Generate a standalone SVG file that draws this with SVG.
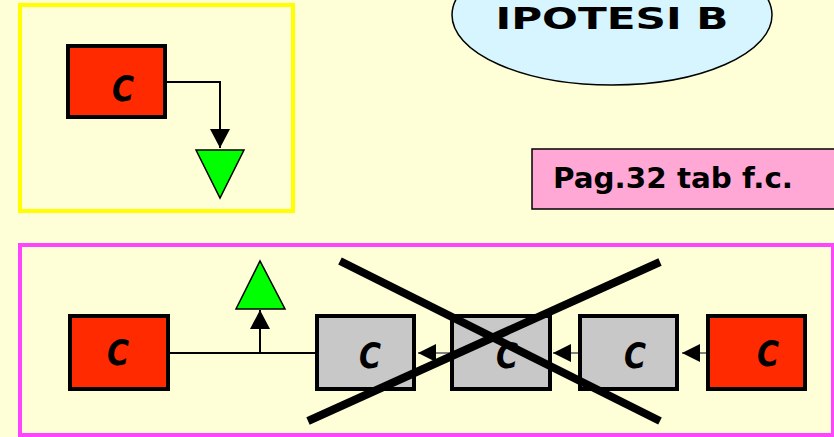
<svg xmlns="http://www.w3.org/2000/svg" width="834" height="437" viewBox="0 0 834 437">
<defs>
<style>
.bg{fill:#FFFFD7}
.box{stroke:#000;stroke-width:4}
.red{fill:#FF2A00}
.gray{fill:#C8C8C8}
.c{font-family:"DejaVu Sans",sans-serif;font-weight:bold;font-style:oblique;font-size:36px;text-anchor:middle;fill:#000}
.lbl{font-family:"DejaVu Sans",sans-serif;font-weight:bold;fill:#000}
.tri{fill:#00FF00;stroke:#000;stroke-width:1.5}
.wire{stroke:#000;stroke-width:2;fill:none}
.gwire{stroke:#808080;stroke-width:2;fill:none}
.cross{stroke:#000;stroke-width:8;stroke-linecap:butt}
</style>
<marker id="ah" markerUnits="userSpaceOnUse" markerWidth="22" markerHeight="22" refX="19" refY="10" orient="auto">
<path d="M0,0 L19,10 L0,20 Z" fill="#000"/>
</marker>
<marker id="ahs" markerUnits="userSpaceOnUse" markerWidth="20" markerHeight="20" refX="18" refY="9" orient="auto">
<path d="M0,0 L18,9 L0,18 Z" fill="#000"/>
</marker>
</defs>
<rect class="bg" x="0" y="0" width="834" height="437"/>

<g id="frame-top">
<rect x="20" y="5" width="273" height="206" fill="none" stroke="#FFFF00" stroke-width="4"/>
</g>
<g id="frame-bottom">
<rect x="20" y="245" width="813" height="190" fill="none" stroke="#FF44FF" stroke-width="4"/>
</g>

<g id="title">
<ellipse cx="612" cy="15" rx="160" ry="70" fill="#D7F5FF" stroke="#000" stroke-width="1.5"/>
<text class="lbl" x="612" y="29" font-size="30" text-anchor="middle" textLength="233" lengthAdjust="spacingAndGlyphs">IPOTESI B</text>
</g>

<g id="note">
<rect x="532" y="149" width="310" height="60" fill="#FFA8D5" stroke="#000" stroke-width="1.5"/>
<text class="lbl" x="553" y="188" font-size="29" textLength="240" lengthAdjust="spacingAndGlyphs">Pag.32 tab f.c.</text>
</g>

<g id="connectors">
<polyline class="wire" points="167,82 220,82 220,148" marker-end="url(#ah)"/>
<line class="wire" x1="170" y1="353" x2="315" y2="353"/>
<line class="wire" x1="260" y1="353" x2="260" y2="310" marker-end="url(#ah)"/>
<line class="gwire" x1="706" y1="353" x2="682" y2="353" marker-end="url(#ahs)"/>
<line class="gwire" x1="578" y1="353" x2="553" y2="353" marker-end="url(#ahs)"/>
<line class="gwire" x1="450" y1="353" x2="418" y2="353" marker-end="url(#ahs)"/>
</g>

<g id="node-c-top">
<rect class="box red" x="68" y="46" width="97" height="71"/>
<text class="c" x="123" y="101" textLength="22" lengthAdjust="spacingAndGlyphs">C</text>
</g>
<g id="out-top">
<polygon class="tri" points="196,150 244,150 220,198"/>
</g>

<g id="node-c1">
<rect class="box red" x="70" y="316" width="98" height="73"/>
<text class="c" x="118" y="365" textLength="22" lengthAdjust="spacingAndGlyphs">C</text>
</g>
<g id="out-bottom">
<polygon class="tri" points="236,309 285,309 260,261"/>
</g>
<g id="node-c2">
<rect class="box gray" x="317" y="316" width="97" height="73"/>
<text class="c" x="370" y="368" textLength="22" lengthAdjust="spacingAndGlyphs">C</text>
</g>
<g id="node-c3">
<rect class="box gray" x="452" y="316" width="98" height="73"/>
<text class="c" x="507" y="368" textLength="22" lengthAdjust="spacingAndGlyphs">C</text>
</g>
<g id="node-c4">
<rect class="box gray" x="580" y="316" width="97" height="73"/>
<text class="c" x="635" y="368" textLength="22" lengthAdjust="spacingAndGlyphs">C</text>
</g>
<g id="node-c5">
<rect class="box red" x="708" y="316" width="97" height="73"/>
<text class="c" x="768" y="366" textLength="22" lengthAdjust="spacingAndGlyphs">C</text>
</g>

<g id="cross">
<line class="cross" x1="308" y1="421" x2="660" y2="262"/>
<line class="cross" x1="340" y1="261" x2="660" y2="421"/>
</g>
</svg>
